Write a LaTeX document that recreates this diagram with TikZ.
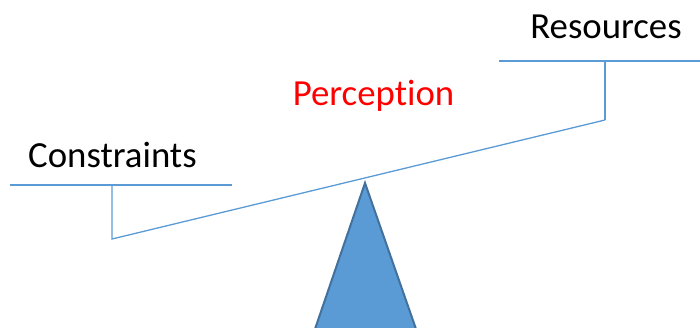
\documentclass[tikz,border=0pt]{standalone}
\usepackage{fontspec}
\setmainfont[Ligatures=NoCommon]{Carlito}
\usetikzlibrary{positioning}
\definecolor{beamblue}{HTML}{5B9BD5}
\definecolor{edgeblue}{HTML}{41719C}

\begin{document}
\begin{tikzpicture}[x=1pt,y=-1pt,
        lbl/.style={inner sep=0pt, anchor=base, font=\fontsize{36.8}{44}\selectfont},
        bar/.style={draw=beamblue, line width=1.3pt},
        fulcrum/.style={fill=beamblue, draw=edgeblue, line width=2pt, line join=miter}
    ]
        \useasboundingbox (0,0) rectangle (700,327);

        % texts
        \node[lbl] (res) at (606,38) {Resources};
        \node[lbl] (con) at (112.5,167) {Constraints};
        \node[lbl, text=red] (per) at (373.5,105) {Perception};

        % balance
        \coordinate (rl) at (499,61);
        \coordinate (rr) at (700,61);
        \coordinate (rt) at (605,61);
        \coordinate (rb) at (605,120);
        \coordinate (cl) at (10,185);
        \coordinate (cr) at (232,185);
        \coordinate (ct) at (112,185);
        \coordinate (cb) at (112,239);

        \draw[bar] (rl) -- (rr);
        \draw[bar] (rt) -- (rb);
        \draw[bar] (cl) -- (cr);
        \draw[bar] (ct) -- (cb) -- (rb);

        % pivot
        \coordinate (apex) at (365,183);
        \coordinate (bl) at (315,329);
        \coordinate (br) at (416,329);
        \draw[fulcrum] (bl) -- (apex) -- (br);
\end{tikzpicture}
\end{document}
